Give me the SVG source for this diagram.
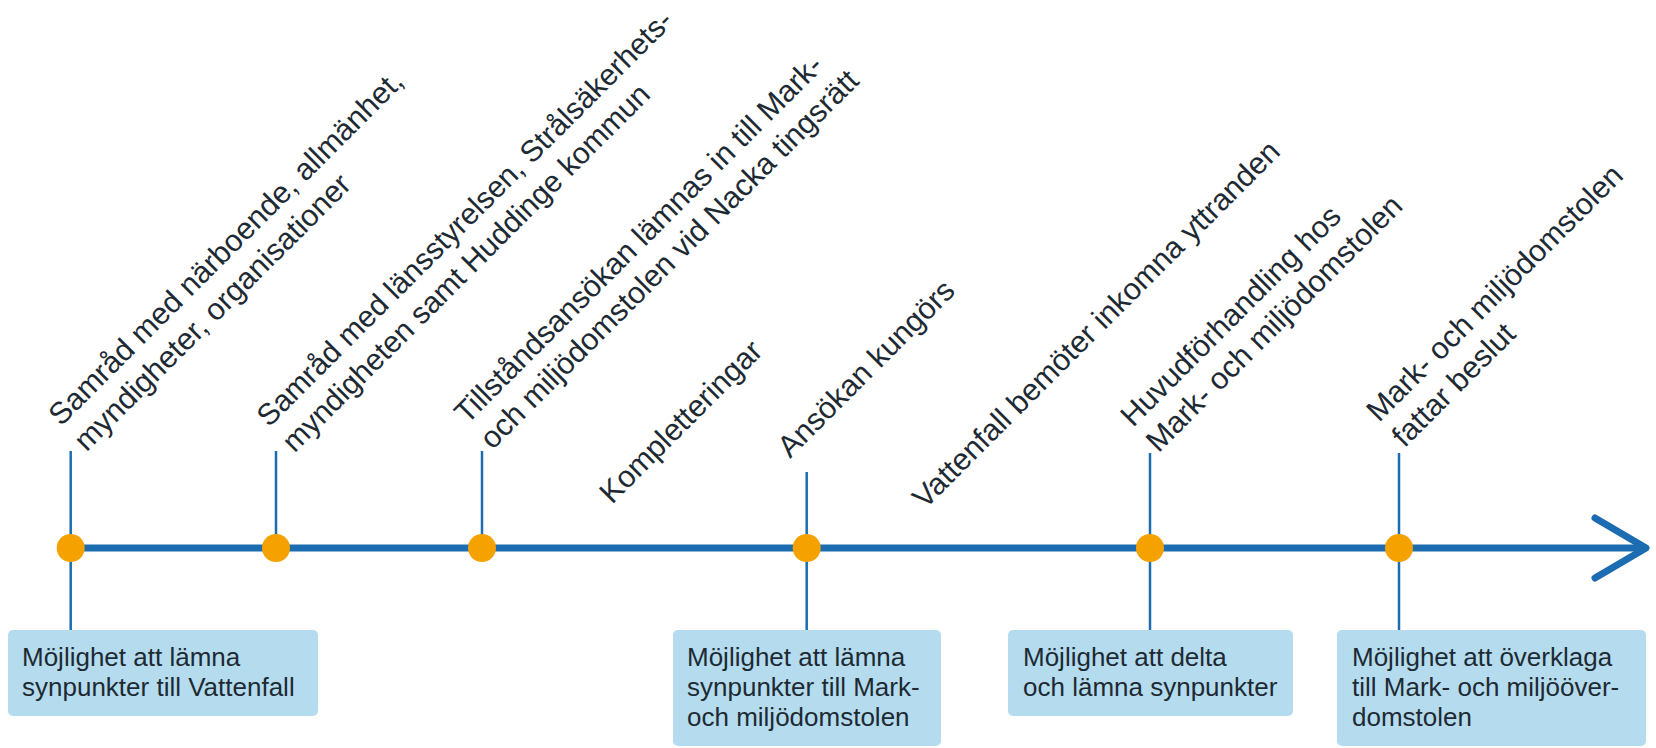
<svg xmlns="http://www.w3.org/2000/svg" width="1656" height="748" viewBox="0 0 1656 748">
<style>
.axis{stroke:#1c6cb2;stroke-width:7;fill:none;stroke-linecap:round;stroke-linejoin:round}
.tick{stroke:#1c6cb2;stroke-width:2.5}
.dot{fill:#f5a100}
.lbl{font-family:"Liberation Sans",Arial,sans-serif;font-size:30.5px;fill:#1e2a33}
.lbl.s{font-size:30px}
.box{fill:#b4dcee}
.bt{font-family:"Liberation Sans",Arial,sans-serif;font-size:26px;fill:#1e2a33}
</style>
<rect width="1656" height="748" fill="#ffffff"/>
<g id="connectors">
<line class="axis" x1="70.7" y1="548" x2="1645" y2="548"/>
<polyline class="axis" points="1595,518 1646,548 1595,578"/>
<line class="tick" x1="70.7" y1="451" x2="70.7" y2="630"/>
<line class="tick" x1="276" y1="451" x2="276" y2="548"/>
<line class="tick" x1="482" y1="451" x2="482" y2="548"/>
<line class="tick" x1="806.7" y1="472" x2="806.7" y2="630"/>
<line class="tick" x1="1150" y1="453" x2="1150" y2="630"/>
<line class="tick" x1="1399" y1="453" x2="1399" y2="630"/>
</g>
<g id="node-1">
<circle class="dot" cx="70.7" cy="548" r="14"/>
<text class="lbl" transform="translate(61,427) rotate(-45)"><tspan x="0" y="0">Samråd med närboende, allmänhet,</tspan><tspan x="0" y="36">myndigheter, organisationer</tspan></text>
</g>
<g id="node-2">
<circle class="dot" cx="276" cy="548" r="14"/>
<text class="lbl s" transform="translate(269,428) rotate(-45)"><tspan x="0" y="0">Samråd med länsstyrelsen, Strålsäkerhets-</tspan><tspan x="0" y="36">myndigheten samt Huddinge kommun</tspan></text>
</g>
<g id="node-3">
<circle class="dot" cx="482" cy="548" r="14"/>
<text class="lbl" transform="translate(467,425) rotate(-45)"><tspan x="0" y="0">Tillståndsansökan lämnas in till Mark-</tspan><tspan x="0" y="36">och miljödomstolen vid Nacka tingsrätt</tspan></text>
</g>
<g id="label-kompletteringar">
<text class="lbl" transform="translate(612,505) rotate(-45)">Kompletteringar</text>
</g>
<g id="node-4">
<circle class="dot" cx="806.7" cy="548" r="14"/>
<text class="lbl" transform="translate(790,459) rotate(-45)">Ansökan kungörs</text>
</g>
<g id="label-vattenfall">
<text class="lbl" transform="translate(925,510) rotate(-45)">Vattenfall bemöter inkomna yttranden</text>
</g>
<g id="node-5">
<circle class="dot" cx="1150" cy="548" r="14"/>
<text class="lbl" transform="translate(1133,428) rotate(-45)"><tspan x="0" y="0">Huvudförhandling hos</tspan><tspan x="0" y="36">Mark- och miljödomstolen</tspan></text>
</g>
<g id="node-6">
<circle class="dot" cx="1399" cy="548" r="14"/>
<text class="lbl" transform="translate(1379,423) rotate(-45)"><tspan x="0" y="0">Mark- och miljödomstolen</tspan><tspan x="0" y="36">fattar beslut</tspan></text>
</g>
<g id="box-1">
<rect class="box" x="8" y="630" width="310" height="86" rx="5"/>
<text class="bt"><tspan x="22" y="666">Möjlighet att lämna</tspan><tspan x="22" y="696">synpunkter till Vattenfall</tspan></text>
</g>
<g id="box-2">
<rect class="box" x="673" y="630" width="268" height="116" rx="5"/>
<text class="bt"><tspan x="687" y="666">Möjlighet att lämna</tspan><tspan x="687" y="696">synpunkter till Mark-</tspan><tspan x="687" y="726">och miljödomstolen</tspan></text>
</g>
<g id="box-3">
<rect class="box" x="1008" y="630" width="285" height="86" rx="5"/>
<text class="bt"><tspan x="1023" y="666">Möjlighet att delta</tspan><tspan x="1023" y="696">och lämna synpunkter</tspan></text>
</g>
<g id="box-4">
<rect class="box" x="1337" y="630" width="309" height="116" rx="5"/>
<text class="bt"><tspan x="1352" y="666">Möjlighet att överklaga</tspan><tspan x="1352" y="696">till Mark- och miljööver-</tspan><tspan x="1352" y="726">domstolen</tspan></text>
</g>
</svg>
